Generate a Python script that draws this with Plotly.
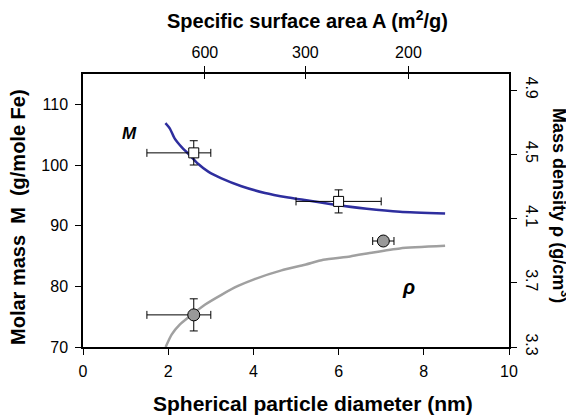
import plotly.graph_objects as go

# ---- data ----
m_curve_d = [1.935, 2.04, 2.15, 2.31, 2.51, 2.70, 2.94, 3.25, 3.72, 4.27, 4.82, 5.13, 5.87, 6.66, 7.44, 8.50]
m_curve_M = [106.9, 106.0, 104.4, 103.0, 101.6, 100.2, 98.9, 97.8, 96.5, 95.4, 94.65, 94.3, 93.5, 92.8, 92.3, 92.0]

rho_curve_d = [1.94, 2.08, 2.27, 2.55, 2.86, 3.25, 3.64, 4.03, 4.66, 5.21, 5.64, 6.27, 6.81, 7.44, 8.50]
rho_curve_r = [3.30, 3.377, 3.439, 3.50, 3.563, 3.625, 3.680, 3.723, 3.777, 3.812, 3.843, 3.864, 3.889, 3.914, 3.930]

m_pts_d = [2.6, 6.0]
m_pts_M = [102.0, 94.0]
m_pts_dx_plus = [0.4, 1.0]
m_pts_dx_minus = [1.1, 1.0]
m_pts_dM = [2.0, 1.9]

rho_pts_d = [2.6, 7.05]
rho_pts_r = [3.5, 3.96]
rho_pts_dx_plus = [0.4, 0.25]
rho_pts_dx_minus = [1.1, 0.25]
rho_pts_dr = [0.1, 0.0]

x_ticks = [0, 2, 4, 6, 8, 10]
yl_ticks = [70, 80, 90, 100, 110]
yr_ticks = [3.3, 3.7, 4.1, 4.5, 4.9]
top_tick_d = [2.86, 5.22, 7.64]
top_tick_labels = ["600", "300", "200"]

FONT = "Liberation Sans, Arial, sans-serif"
BLUE = "#2E2E9E"
GRAY = "#A0A0A0"

# page offset (body margin) compensation
OFF = 8
W, H = 574, 415
L, T = 83 - OFF, 74 - OFF
PR, PB = 509 - OFF, 347 - OFF
R, B = W - PR, H - PB

fig = go.Figure()

fig.add_trace(go.Scatter(x=m_curve_d, y=m_curve_M, mode="lines",
                         line=dict(color=BLUE, width=2.5, shape="spline", smoothing=0.6),
                         xaxis="x", yaxis="y", hoverinfo="skip"))
fig.add_trace(go.Scatter(x=rho_curve_d, y=rho_curve_r, mode="lines",
                         line=dict(color=GRAY, width=2.5, shape="spline", smoothing=0.6),
                         xaxis="x", yaxis="y2", hoverinfo="skip"))

fig.add_trace(go.Scatter(
    x=m_pts_d, y=m_pts_M, mode="markers", xaxis="x", yaxis="y",
    marker=dict(symbol="square", size=10, color="white", line=dict(color="black", width=1)),
    error_x=dict(type="data", symmetric=False, array=m_pts_dx_plus, arrayminus=m_pts_dx_minus,
                 color="black", thickness=1, width=4),
    error_y=dict(type="data", array=m_pts_dM, color="black", thickness=1, width=4),
    hoverinfo="skip"))

fig.add_trace(go.Scatter(
    x=rho_pts_d, y=rho_pts_r, mode="markers", xaxis="x", yaxis="y2",
    marker=dict(symbol="circle", size=12, color="#999999", line=dict(color="black", width=1)),
    error_x=dict(type="data", symmetric=False, array=rho_pts_dx_plus, arrayminus=rho_pts_dx_minus,
                 color="black", thickness=1, width=4),
    error_y=dict(type="data", array=rho_pts_dr, color="black", thickness=1, width=4),
    hoverinfo="skip"))

# invisible traces to activate top axes
fig.add_trace(go.Scatter(x=[top_tick_d[0]], y=[yl_ticks[0]], mode="markers",
                         marker=dict(opacity=0), xaxis="x2", yaxis="y", hoverinfo="skip"))
fig.add_trace(go.Scatter(x=[top_tick_d[0]], y=[yl_ticks[0]], mode="markers",
                         marker=dict(opacity=0), xaxis="x3", yaxis="y", hoverinfo="skip"))

axis_common = dict(showgrid=False, zeroline=False, showline=True, linecolor="black",
                   linewidth=1.5, ticks="outside", ticklen=6, tickcolor="black", tickwidth=1,
                   tickfont=dict(family=FONT, size=16, color="black"))

fig.update_layout(
    width=W, height=H,
    margin=dict(l=L, r=R, t=T, b=B, pad=0),
    paper_bgcolor="white", plot_bgcolor="white",
    showlegend=False,
    font=dict(family=FONT, color="black"),
    xaxis=dict(range=[0, 10], tickvals=x_ticks, ticklabelstandoff=3, **axis_common),
    xaxis2=dict(range=[0, 10], overlaying="x", side="top", tickvals=top_tick_d,
                ticktext=top_tick_labels, ticklabelstandoff=2, **axis_common),
    xaxis3=dict(range=[0, 10], overlaying="x", side="top", tickvals=top_tick_d,
                showticklabels=False, showgrid=False, zeroline=False, showline=False,
                ticks="inside", ticklen=5, tickcolor="black", tickwidth=1),
    yaxis=dict(range=[70, 115], tickvals=yl_ticks, ticklabelstandoff=4, **axis_common),
    yaxis2=dict(range=[3.3, 5.0], overlaying="y", side="right", tickvals=yr_ticks,
                ticktext=[f"{v:.1f}" for v in yr_ticks], tickangle=90, ticklabelstandoff=3,
                **axis_common),
)

def px_to_paper(px, py):
    return ((px - OFF) - L) / (PR - L), ((H - (py - OFF)) - B) / (PB - T)

annots = []
for text, px, py, ang, size in [
    ("<b>Spherical particle diameter (nm)</b>", 313, 403, 0, 21),
    ("<b>Specific surface area A (m<sup>2</sup>/g)</b>", 307, 19, 0, 20),
    ("<b>Molar mass  M  (g/mole Fe)</b>", 18, 217, -90, 20),
    ("<b>Mass density ρ (g/cm<sup>3</sup>)</b>", 561, 205, 90, 18),
]:
    xp, yp = px_to_paper(px, py)
    annots.append(dict(text=text, x=xp, y=yp, xref="paper", yref="paper", xanchor="center",
                       yanchor="middle", showarrow=False, textangle=ang,
                       font=dict(size=size, family=FONT, color="black")))

annots.append(dict(text="<b><i>M</i></b>", x=1.1, y=105.2, xref="x", yref="y", showarrow=False,
                   xanchor="center", yanchor="middle", font=dict(size=17, family=FONT, color="black")))
annots.append(dict(text="<b><i>ρ</i></b>", x=7.63, y=79.9, xref="x", yref="y", showarrow=False,
                   xanchor="center", yanchor="middle", font=dict(size=20, family=FONT, color="black")))
fig.update_layout(annotations=annots)

fig.write_html("out.html")
